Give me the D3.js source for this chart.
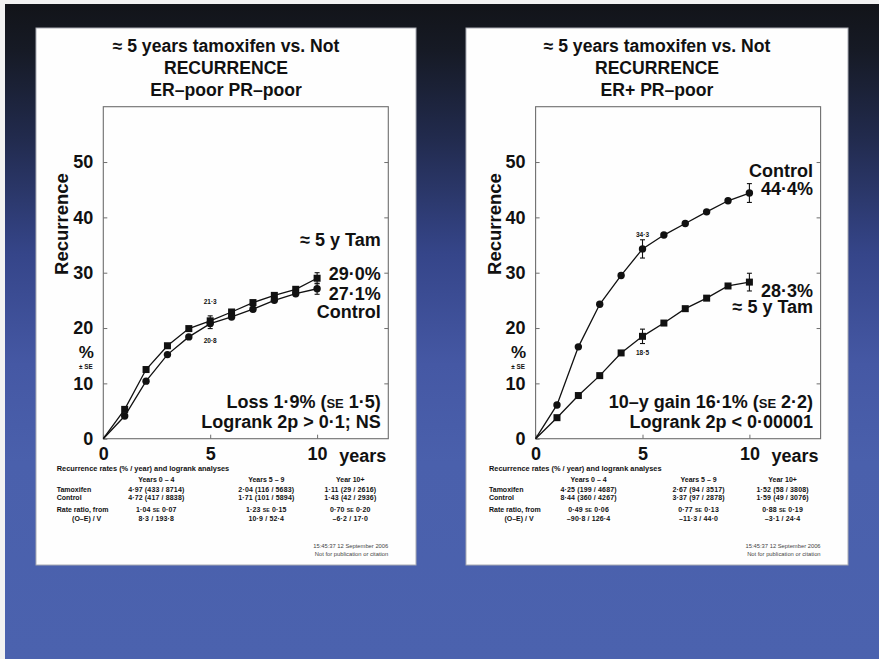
<!DOCTYPE html>
<html>
<head>
<meta charset="utf-8">
<script src="https://cdn.jsdelivr.net/npm/d3@7"></script>
<style>
  body { margin: 0; background: #fff; }
  svg { display: block; }
  text { font-family: "Liberation Sans", Arial, Helvetica, sans-serif; }
</style>
</head>
<body>
<svg id="chart" width="879" height="659"></svg>
<script>
// ---- data -------------------------------------------------------------
const years = [0, 1, 2, 3, 4, 5, 6, 7, 8, 9, 10];
const seYears = [5, 10];

// ER-poor PR-poor
const poorTam = [0, 5.3, 12.5, 16.8, 19.9, 21.3, 22.9, 24.6, 25.9, 27.0, 29.0];
const poorCtl = [0, 4.1, 10.4, 15.2, 18.4, 20.8, 22.0, 23.4, 25.0, 26.2, 27.1];
const poorTamSE = [0.9, 1.0];
const poorCtlSE = [0.9, 1.0];

// ER+ PR-poor
const posTam = [0, 3.8, 7.8, 11.4, 15.5, 18.5, 20.9, 23.5, 25.4, 27.6, 28.3];
const posCtl = [0, 6.1, 16.6, 24.3, 29.5, 34.3, 36.8, 38.9, 41.0, 43.0, 44.4];
const posTamSE = [1.3, 1.6];
const posCtlSE = [1.65, 1.7];

const yTicks = [0, 10, 20, 30, 40, 50];
const xTicks = [0, 5, 10];

const titleLines = ["≈ 5 years tamoxifen vs. Not", "RECURRENCE"];
const subtitles = ["ER–poor PR–poor", "ER+ PR–poor"];

const tableHeader = "Recurrence rates (% / year) and logrank analyses";
const periods = ["Years 0 – 4", "Years 5 – 9", "Year 10+"];
const rowLabels = ["Tamoxifen", "Control", "Rate ratio, from", "(O–E) / V"];

const poorTamRates = ["4·97 (433 / 8714)", "2·04 (116 / 5683)", "1·11 (29 / 2616)"];
const poorCtlRates = ["4·72 (417 / 8838)", "1·71 (101 / 5894)", "1·43 (42 / 2936)"];
const poorRatio    = [["1·04", "0·07"], ["1·23", "0·15"], ["0·70", "0·20"]];
const poorOEV      = ["8·3 / 193·8", "10·9 / 52·4", "–6·2 / 17·0"];

const posTamRates = ["4·25 (199 / 4687)", "2·67 (94 / 3517)", "1·52 (58 / 3808)"];
const posCtlRates = ["8·44 (360 / 4267)", "3·37 (97 / 2878)", "1·59 (49 / 3076)"];
const posRatio    = [["0·49", "0·06"], ["0·77", "0·13"], ["0·88", "0·19"]];
const posOEV      = ["–90·8 / 126·4", "–11·3 / 44·0", "–3·1 / 24·4"];

const stamp = ["15:45:37   12 September 2006", "Not for publication or citation"];

// ---- panels -------------------------------------------------------------
const panels = [
  {
    cardX: 36, cardW: 380, plotX: 103.3, subtitle: subtitles[0],
    tam: poorTam, ctl: poorCtl, tamSE: poorTamSE, ctlSE: poorCtlSE,
    fiveLabels: [{ v: poorTam[5], text: "21·3", dy: -17 }, { v: poorCtl[5], text: "20·8", dy: 19 }],
    endLabels: [
      { text: "≈ 5 y Tam", y: 246 },
      { text: "29·0%", y: 280 },
      { text: "27·1%", y: 300 },
      { text: "Control", y: 317.5 }
    ],
    stats: [["Loss 1·9% (", "SE", " 1·5)"], ["Logrank 2p > 0·1; NS"]],
    rows: [poorTamRates, poorCtlRates, poorRatio, poorOEV]
  },
  {
    cardX: 466, cardW: 382, plotX: 535.6, subtitle: subtitles[1],
    tam: posTam, ctl: posCtl, tamSE: posTamSE, ctlSE: posCtlSE,
    fiveLabels: [{ v: posCtl[5], text: "34·3", dy: -12 }, { v: posTam[5], text: "18·5", dy: 19 }],
    endLabels: [
      { text: "Control", y: 177 },
      { text: "44·4%", y: 195 },
      { text: "28·3%", y: 296.5 },
      { text: "≈ 5 y Tam", y: 313 }
    ],
    stats: [["10–y gain 16·1% (", "SE", " 2·2)"], ["Logrank 2p < 0·00001"]],
    rows: [posTamRates, posCtlRates, posRatio, posOEV]
  }
];

const svg = d3.select("#chart");

// ---- slide background ---------------------------------------------------
const defs = svg.append("defs");
const grad = defs.append("linearGradient").attr("id", "bg")
  .attr("x1", 0).attr("y1", 0).attr("x2", 0).attr("y2", 1);
[[0, "#121419"], [0.07, "#161a25"], [0.2, "#212a4c"], [0.38, "#354589"],
 [0.55, "#4558a4"], [0.7, "#4a60ac"], [1, "#4b62ae"]]
  .forEach(([o, c]) => grad.append("stop").attr("offset", o).attr("stop-color", c));

svg.append("rect").attr("width", 879).attr("height", 659).attr("fill", "#f2f2f2");
svg.append("rect").attr("x", 5).attr("y", 4).attr("width", 874).attr("height", 655)
  .attr("fill", "url(#bg)");

const cardTop = 28, cardBottom = 565;
const plotTop = 106.7, plotBottom = 438.7, plotW = 285;
const ink = "#111";

// bold text helper
function label(g, x, y, size, str, anchor) {
  return g.append("text").attr("x", x).attr("y", y)
    .attr("text-anchor", anchor || "start")
    .style("font-size", size + "px").style("font-weight", "bold").style("fill", ink)
    .text(str);
}

panels.forEach(p => {
  const g = svg.append("g");

  g.append("rect")
    .attr("x", p.cardX).attr("y", cardTop)
    .attr("width", p.cardW).attr("height", cardBottom - cardTop)
    .attr("fill", "#fefefe").attr("stroke", "#a9abb3").attr("stroke-width", 1);

  const cx = p.cardX + p.cardW / 2;
  [titleLines[0], titleLines[1], p.subtitle].forEach((t, i) => {
    label(g, cx, 51.7 + i * 22, 17.6, t, "middle");
  });

  const x = d3.scaleLinear().domain([0, 13.33]).range([p.plotX, p.plotX + plotW]);
  const y = d3.scaleLinear().domain([0, 60]).range([plotBottom, plotTop]);

  // frame
  g.append("rect")
    .attr("x", x(0)).attr("y", y(60))
    .attr("width", plotW).attr("height", plotBottom - plotTop)
    .attr("fill", "none").attr("stroke", "#6e6e6e").attr("stroke-width", 1.1);

  // axes
  const ay = g.append("g").attr("transform", `translate(${x(0)},0)`)
    .call(d3.axisLeft(y).tickValues(yTicks).tickSize(-4).tickPadding(10).tickFormat(d3.format("d")));
  const ayr = g.append("g").attr("transform", `translate(${x(13.33)},0)`)
    .call(d3.axisRight(y).tickValues(yTicks.slice(1)).tickSize(-4).tickFormat(""));
  const ax = g.append("g").attr("transform", `translate(0,${plotBottom})`)
    .call(d3.axisBottom(x).tickValues(xTicks).tickSize(-4).tickPadding(9).tickFormat(d3.format("d")));
  [ay, ayr, ax].forEach(a => {
    a.select(".domain").remove();
    a.selectAll(".tick line").attr("stroke", "#6e6e6e");
    a.selectAll("text").style("font-size", "18px").style("fill", ink)
      .style("font-family", "'Liberation Sans', Arial, sans-serif").style("font-weight", "bold");
  });
  label(g, x(13.33) - 2, 461.7, 18, "years", "end");

  // y labels
  label(g, 0, 0, 18.5, "Recurrence", "middle")
    .attr("transform", `translate(${x(0) - 35},${224}) rotate(-90)`);
  label(g, x(0) - 17, 357.5, 17, "%", "middle");
  label(g, x(0) - 17.5, 368.5, 6.3, "± SE", "middle");

  // curves
  const line = d3.line().x((d, i) => x(years[i])).y(d => y(d));
  [p.tam, p.ctl].forEach(s => {
    g.append("path").datum(s).attr("d", line)
      .attr("fill", "none").attr("stroke", ink).attr("stroke-width", 1.3);
  });

  // error bars
  const errs = [];
  seYears.forEach((yr, k) => {
    errs.push({ yr, v: p.tam[years.indexOf(yr)], se: p.tamSE[k] });
    errs.push({ yr, v: p.ctl[years.indexOf(yr)], se: p.ctlSE[k] });
  });
  errs.forEach(e => {
    const gx = x(e.yr);
    g.append("line").attr("x1", gx).attr("x2", gx)
      .attr("y1", y(e.v - e.se)).attr("y2", y(e.v + e.se))
      .attr("stroke", ink).attr("stroke-width", 1.1);
    [e.v - e.se, e.v + e.se].forEach(b => {
      g.append("line").attr("x1", gx - 2.5).attr("x2", gx + 2.5)
        .attr("y1", y(b)).attr("y2", y(b)).attr("stroke", ink).attr("stroke-width", 1.1);
    });
  });

  // markers: squares for tamoxifen, circles for control
  const pts = (s) => s.map((v, i) => ({ yr: years[i], v })).filter(d => d.yr > 0);
  g.selectAll(null).data(pts(p.tam)).join("rect")
    .attr("x", d => x(d.yr) - 3.5).attr("y", d => y(d.v) - 3.5)
    .attr("width", 7).attr("height", 7).attr("fill", ink);
  g.selectAll(null).data(pts(p.ctl)).join("circle")
    .attr("cx", d => x(d.yr)).attr("cy", d => y(d.v)).attr("r", 3.7).attr("fill", ink);

  // values at 5 years
  p.fiveLabels.forEach(l => {
    label(g, x(5), y(l.v) + l.dy, 6.5, l.text, "middle");
  });

  // labels at 10 years
  const rx = x(13.33) - 7.5;
  p.endLabels.forEach(l => label(g, rx, l.y, 18, l.text, "end"));

  // statistics
  p.stats.forEach((parts, i) => {
    const t = label(g, rx, 408.3 + i * 20, 18, null, "end");
    parts.forEach((s, j) => {
      const ts = t.append("tspan").text(s);
      if (j === 1) ts.style("font-size", "13px");
    });
  });

  // rates table
  const tx = x(0) - 46.6;
  const colX = [x(0) + 53, x(0) + 163, x(0) + 247];
  const fs = 7;
  label(g, tx, 471, 7.4, tableHeader);
  periods.forEach((t, i) => label(g, colX[i], 481.7, fs, t, "middle"));
  const rowY = [491.8, 499.8, 512.3, 520.7];
  rowLabels.forEach((t, i) => {
    label(g, i === 3 ? tx + 30 : tx, rowY[i], fs, t, i === 3 ? "middle" : "start");
  });
  p.rows.forEach((row, r) => {
    row.forEach((cell, c) => {
      const t = label(g, colX[c], rowY[r], fs, Array.isArray(cell) ? null : cell, "middle")
        .style("letter-spacing", "0.15px");
      if (Array.isArray(cell)) {
        t.append("tspan").text(cell[0] + " ");
        t.append("tspan").style("font-size", (fs * 0.75) + "px").text("SE");
        t.append("tspan").text(" " + cell[1]);
      }
    });
  });

  stamp.forEach((s, i) => {
    g.append("text").attr("x", x(13.33)).attr("y", 548.3 + i * 7.4)
      .attr("text-anchor", "end")
      .style("font-size", "5.8px").style("font-weight", "normal").style("fill", "#444")
      .text(s);
  });
});
</script>
</body>
</html>
